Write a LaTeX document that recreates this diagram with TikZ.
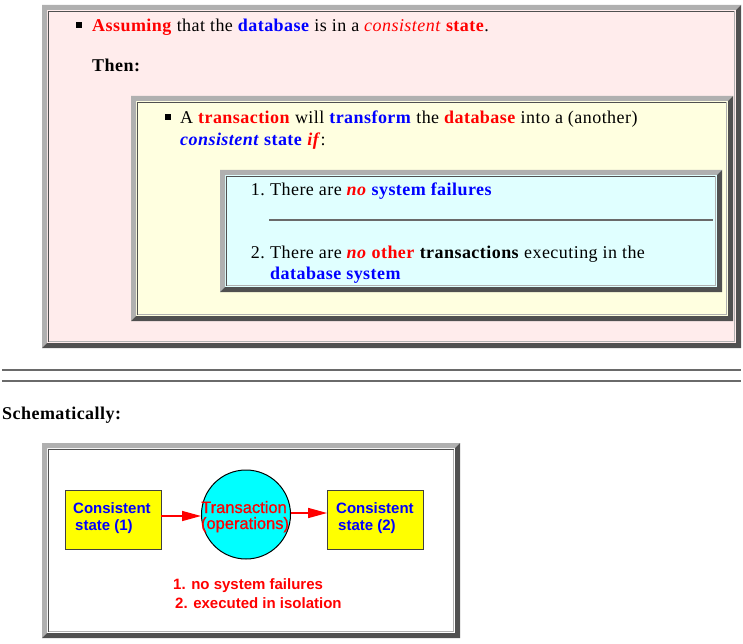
\documentclass[tikz,border=0pt]{standalone}
\usepackage{fontspec}
\setmainfont{Liberation Serif}[LetterSpace=2.5]
\newfontfamily\arialfont{Liberation Sans}
\newfontfamily\arialmed{Liberation Sans}[FakeBold=0.8]
\usetikzlibrary{arrows.meta}
\definecolor{pinkbg}{HTML}{FFECEC}
\definecolor{yellowbg}{HTML}{FFFFE0}
\definecolor{cyanbg}{HTML}{E0FFFF}
\definecolor{framelight}{HTML}{B0B0B0}
\definecolor{framedark}{HTML}{505050}
\definecolor{rulegray}{HTML}{6A6A6A}
\definecolor{dred}{HTML}{FF0000}
\definecolor{dblue}{HTML}{0000FF}
\definecolor{boxyellow}{HTML}{FFFF00}
\definecolor{boxcyan}{HTML}{00FFFF}
\newcommand\htmlframe[5]{%
  \fill[#5] (#1,#2) rectangle (#3,#4);
  \fill[framelight] (#1,#2) -- (#3,#2) -- (#3-5,#2+5) -- (#1+5,#2+5) -- (#1+5,#4-5) -- (#1,#4) -- cycle;
  \fill[framedark] (#3,#2) -- (#3,#4) -- (#1,#4) -- (#1+5,#4-5) -- (#3-5,#4-5) -- (#3-5,#2+5) -- cycle;
  \draw[framedark, line width=1pt] (#1+6.5,#4-6.5) -- (#1+6.5,#2+6.5) -- (#3-6.5,#2+6.5);
  \draw[framelight, line width=1pt] (#3-6.5,#2+6.5) -- (#3-6.5,#4-6.5) -- (#1+6.5,#4-6.5);
}
\newcommand\R[1]{\textcolor{dred}{\textbf{#1}}}
\newcommand\B[1]{\textcolor{dblue}{\textbf{#1}}}
\tikzset{
  txt/.style={anchor=base west, inner sep=0pt, font=\fontsize{18}{22}\selectfont},
  num/.style={anchor=base east, inner sep=0pt, font=\fontsize{18}{22}\selectfont},
  sans/.style={anchor=base west, inner sep=0pt, font=\arialfont\bfseries\fontsize{15}{17}\selectfont},
  sansc/.style={anchor=base, inner sep=0pt, font=\arialmed\fontsize{16.5}{19}\selectfont},
  statebox/.style={draw=black!75, line width=0.8pt, fill=boxyellow, minimum width=96pt, minimum height=59pt, inner sep=0pt},
  opcircle/.style={circle, draw=black, line width=1pt, fill=boxcyan, minimum size=89pt, inner sep=0pt},
  flow/.style={dred, line width=1.5pt, -{Triangle[length=19pt,width=10pt]}},
  hrule/.style={rulegray, line width=2pt}
}
\begin{document}
\begin{tikzpicture}[x=1pt,y=-1pt]
\useasboundingbox (0,0) rectangle (743,644);
\fill[white] (0,0) rectangle (743,644);
% outer pink box
\htmlframe{42}{5}{741}{348}{pinkbg}
\fill (76,22) rectangle (82,28);
\node[txt] (l1) at (92,31.5) {\R{Assuming} that the \B{database} is in a \textcolor{dred}{\textit{consistent}} \R{state}.};
\node[txt] (then) at (92,72) {\textbf{Then:}};
% yellow box
\htmlframe{131}{96}{733}{321}{yellowbg}
\fill (165,114) rectangle (171,120);
\node[txt] (y1) at (180,123.5) {A \R{transaction} will \B{transform} the \R{database} into a (another)};
\node[txt] (y2) at (180,145.5) {\textcolor{dblue}{\textbf{\textit{consistent}}} \B{state} \textcolor{dred}{\textbf{\textit{if}}}:};
% cyan box
\htmlframe{220}{170}{722}{292}{cyanbg}
\node[num] (n1) at (265,196) {1.};
\node[txt] (c1) at (270,196) {There are \textcolor{dred}{\textbf{\textit{no}}} \B{system failures}};
\draw[hrule] (269,220) -- (713,220);
\node[num] (n2) at (265,258) {2.};
\node[txt] (c2) at (270,258) {There are \textcolor{dred}{\textbf{\textit{no}}} \R{other} \textbf{transactions} executing in the};
\node[txt] (c3) at (270,279.5) {\B{database system}};
% page rules
\draw[hrule] (2,370) -- (741,370);
\draw[hrule] (2,381) -- (741,381);
\node[txt] (sch) at (2,419) {\textbf{Schematically:}};
% diagram
\htmlframe{42}{443}{460}{638}{white}
\node[statebox] (s1) at (113,519.5) {};
\node[opcircle] (tr) at (246,514.5) {};
\node[statebox] (s2) at (375.5,519.5) {};
\node[sans, dblue] (s1a) at (73,513) {Consistent};
\node[sans, dblue] (s1b) at (75,530) {state (1)};
\node[sans, dblue] (s2a) at (336,513) {Consistent};
\node[sans, dblue] (s2b) at (338,530) {state (2)};
\node[sansc, dred] (tra) at (244,513) {Transaction};
\node[sansc, dred] (trb) at (245,529) {(operations)};
\draw[flow] ([yshift=3.5pt]s1.east) -- ([yshift=3.5pt]s1.east -| tr.west);
\draw[flow] ([yshift=6.5pt]s2.west -| tr.east) -- ([yshift=6.5pt]s2.west);
\node[sans, dred] (f1) at (173,589) {1. no system failures};
\node[sans, dred] (f2) at (175,608) {2. executed in isolation};
\end{tikzpicture}
\end{document}
